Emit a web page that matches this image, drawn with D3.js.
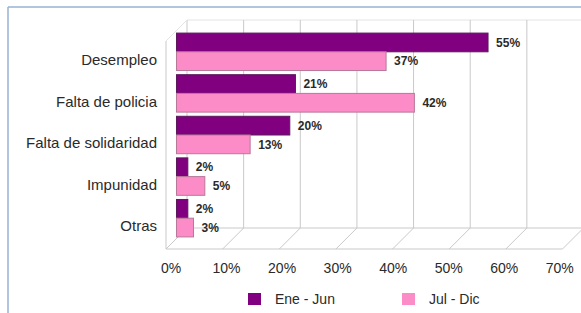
<html>
<head>
<title>Causas</title>
</head>
<body style="margin:0;background:#fff">

<script src="https://cdn.jsdelivr.net/npm/d3@7"></script>

<svg id="chart"></svg>

<script>

var categories = ["Desempleo", "Falta de policia", "Falta de solidaridad", "Impunidad", "Otras"];
var series = ["Ene - Jun", "Jul - Dic"];
var eneJun = [55, 21, 20, 2, 2];
var julDic = [37, 42, 13, 5, 3];
var ticks = [0, 10, 20, 30, 40, 50, 60, 70];

var colors = ["#800080", "#fb8cc8"];
var strokes = ["#5a1a5a", "#b87898"];

var W = 581, H = 313;
var depth = 21;

var svg = d3.select("#chart")
  .attr("width", W)
  .attr("height", H)
  .style("font-family", "Liberation Sans, Arial, sans-serif");

// border
svg.append("line").attr("x1", 8).attr("y1", 7).attr("x2", W).attr("y2", 7)
  .attr("stroke", "#9ab0d4").attr("stroke-width", 1.5);
svg.append("line").attr("x1", 8).attr("y1", 7).attr("x2", 8).attr("y2", H)
  .attr("stroke", "#9ab0d4").attr("stroke-width", 1.5);

// scale at middle depth
var x = d3.scaleLinear().domain([0, 70]).range([176.5, 573]);
var y = d3.scaleBand().domain(categories).range([31, 239]).paddingInner(0.1).paddingOuter(0.05);

var backTop = 20, backBottom = 228;
function xb(v) { return x(v) + depth / 2; }
function xf(v) { return x(v) - depth / 2; }

var grid = svg.append("g").attr("stroke", "#c9c9c9").attr("stroke-width", 1).attr("fill", "none");

// back wall top edge
grid.append("line").attr("x1", xb(0)).attr("y1", backTop).attr("x2", W).attr("y2", backTop).attr("stroke", "#e4e4e4");

// back wall verticals
grid.selectAll(".v").data(ticks).enter().append("line")
  .attr("x1", function(d) { return xb(d); })
  .attr("x2", function(d) { return xb(d); })
  .attr("y1", backTop).attr("y2", backBottom);

// floor slants
grid.selectAll(".s").data(ticks).enter().append("line")
  .attr("x1", function(d) { return xb(d); })
  .attr("y1", backBottom)
  .attr("x2", function(d) { return xf(d); })
  .attr("y2", backBottom + depth);

// floor edges
grid.append("line").attr("x1", xb(0)).attr("y1", backBottom).attr("x2", W).attr("y2", backBottom);
grid.append("line").attr("x1", xf(0)).attr("y1", backBottom + depth).attr("x2", xf(70)).attr("y2", backBottom + depth);

// left side wall
grid.append("line").attr("x1", xf(0)).attr("y1", backTop + depth).attr("x2", xf(0)).attr("y2", backBottom + depth);
grid.append("line").attr("x1", xf(0)).attr("y1", backTop + depth).attr("x2", xb(0)).attr("y2", backTop).attr("stroke", "#e4e4e4");

// bars
var bh = y.bandwidth() / 2;
var data = [];
categories.forEach(function(c, i) {
  data.push({cat: c, s: 0, v: eneJun[i]});
  data.push({cat: c, s: 1, v: julDic[i]});
});

svg.append("g").selectAll("rect")
  .data(data)
  .enter().append("rect")
    .attr("x", x(0))
    .attr("y", function(d) { return y(d.cat) + d.s * bh; })
    .attr("width", function(d) { return x(d.v) - x(0); })
    .attr("height", bh)
    .attr("fill", function(d) { return colors[d.s]; })
    .attr("stroke", function(d) { return strokes[d.s]; })
    .attr("stroke-width", 1);

svg.append("g").selectAll("text")
  .data(data)
  .enter().append("text")
    .attr("x", function(d) { return x(d.v) + 8; })
    .attr("y", function(d) { return y(d.cat) + d.s * bh + bh / 2; })
    .attr("dy", "0.35em")
    .attr("font-size", 12)
    .attr("font-weight", "bold")
    .attr("fill", "#2a2a2a")
    .text(function(d) { return d.v + "%"; });

// category labels
svg.append("g").selectAll("text")
  .data(categories)
  .enter().append("text")
    .attr("x", 157)
    .attr("y", function(d) { return y(d) + y.bandwidth() / 2 + 8; })
    .attr("dy", "0.35em")
    .attr("text-anchor", "end")
    .attr("font-size", 15)
    .attr("fill", "#2a2a2a")
    .text(function(d) { return d; });

// tick labels
svg.append("g").selectAll("text")
  .data(ticks)
  .enter().append("text")
    .attr("x", function(d, i) { return xf(d) + 5 - i * 1.1; })
    .attr("y", 268)
    .attr("dy", "0.35em")
    .attr("text-anchor", "middle")
    .attr("font-size", 14)
    .attr("fill", "#2a2a2a")
    .text(function(d) { return d + "%"; });

// legend
var legX = [248, 402];
var leg = svg.append("g").selectAll("g")
  .data(series)
  .enter().append("g")
    .attr("transform", function(d, i) { return "translate(" + legX[i] + ",293)"; });
leg.append("rect")
  .attr("width", 13).attr("height", 12)
  .attr("fill", function(d, i) { return colors[i]; });
leg.append("text")
  .attr("x", 27).attr("y", 6).attr("dy", "0.35em")
  .attr("font-size", 14)
  .attr("fill", "#2a2a2a")
  .text(function(d) { return d; });

</script>

</body>
</html>
